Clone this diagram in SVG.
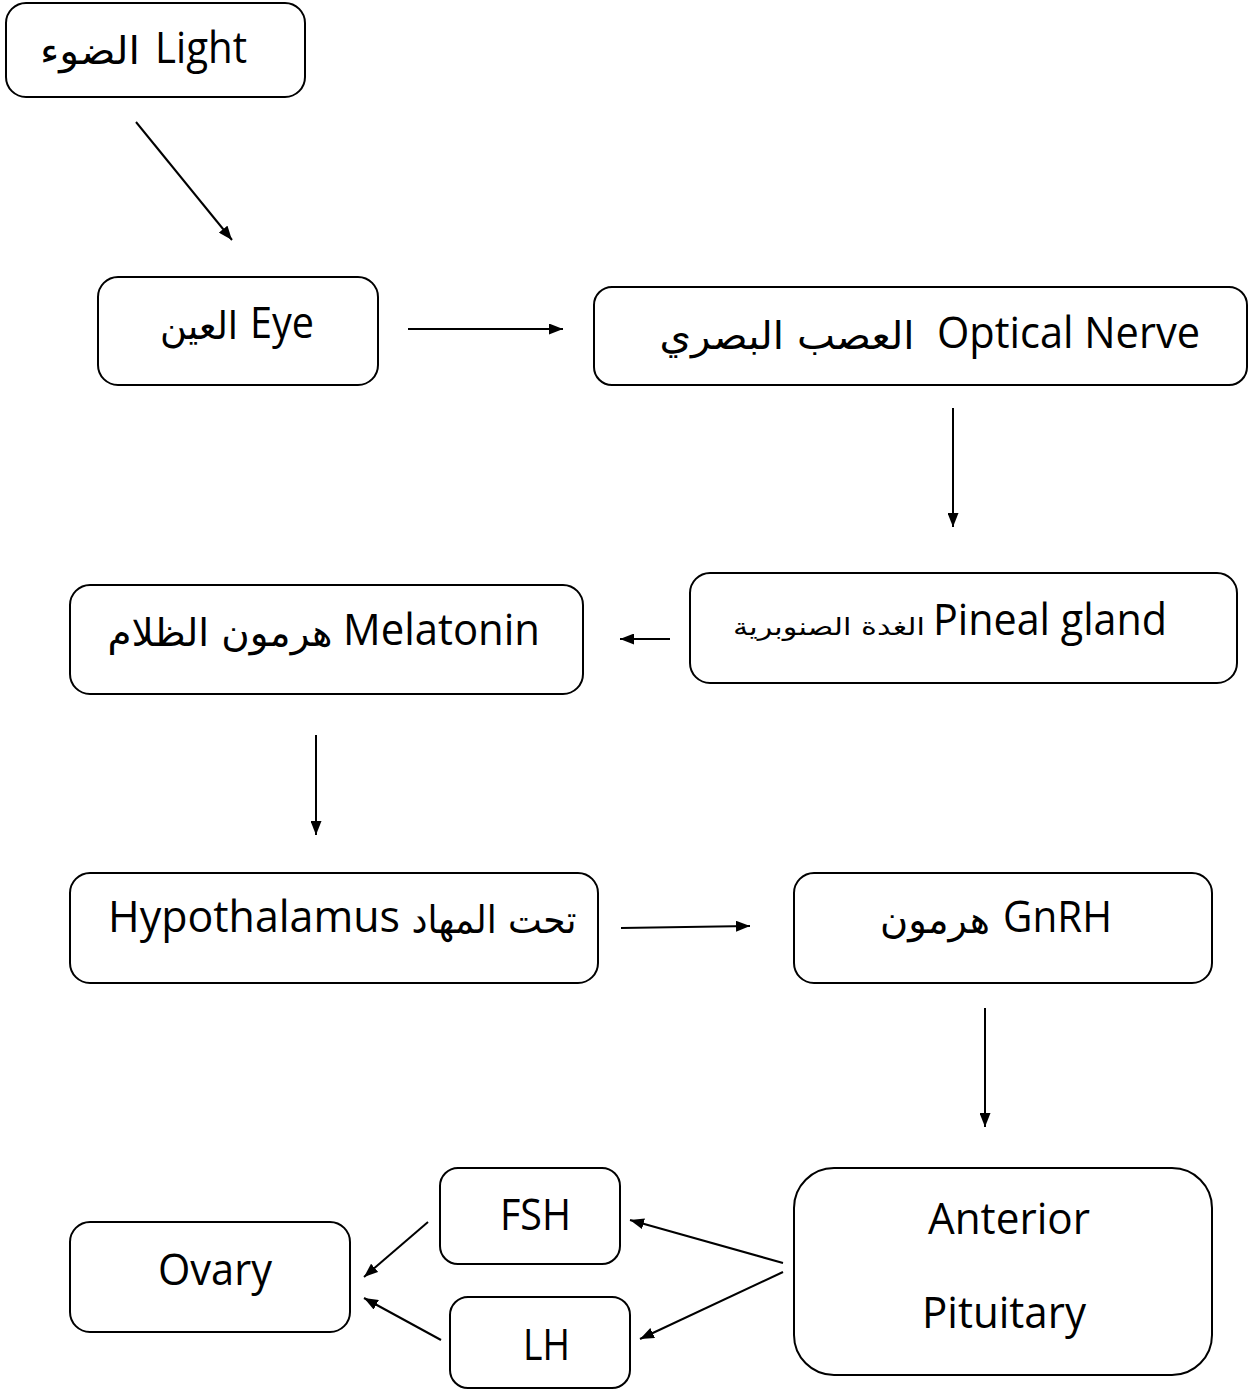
<svg xmlns="http://www.w3.org/2000/svg" width="1248" height="1390" viewBox="0 0 1248 1390">
<style>
.box{fill:#fff;stroke:#000;stroke-width:2}
.en{font-family:"Open Sans","Noto Sans",sans-serif;font-size:44px;fill:#000}
.ar{font-family:"DejaVu Sans",sans-serif;font-size:38px;fill:#000}
.ln{stroke:#000;stroke-width:2;fill:none;marker-end:url(#ah)}
</style>
<defs>
<marker id="ah" viewBox="0 0 14 11" refX="14" refY="5.5" markerWidth="14" markerHeight="11" markerUnits="userSpaceOnUse" orient="auto">
<path d="M0,0 L14,5.5 L0,11 Z" fill="#000"/>
</marker>
</defs>
<rect width="1248" height="1390" fill="#fff"/>
<g id="light">
<rect class="box" x="6" y="3" width="299" height="94" rx="20"/>
<text class="en" x="155" y="63" textLength="92" lengthAdjust="spacingAndGlyphs">Light</text>
<text class="ar" x="90" y="64" text-anchor="middle" textLength="100" lengthAdjust="spacingAndGlyphs">الضوء</text>
</g>
<g id="eye">
<rect class="box" x="98" y="277" width="280" height="108" rx="20"/>
<text class="en" x="250" y="338" textLength="64" lengthAdjust="spacingAndGlyphs">Eye</text>
<text class="ar" x="199" y="339" text-anchor="middle" textLength="78" lengthAdjust="spacingAndGlyphs">العين</text>
</g>
<g id="optical">
<rect class="box" x="594" y="287" width="653" height="98" rx="18"/>
<text class="en" x="937" y="348" textLength="263" lengthAdjust="spacingAndGlyphs">Optical Nerve</text>
<text class="ar" x="787" y="349" text-anchor="middle" textLength="255" lengthAdjust="spacingAndGlyphs">العصب البصري</text>
</g>
<g id="pineal">
<rect class="box" x="690" y="573" width="547" height="110" rx="20"/>
<text class="en" x="933" y="635" textLength="234" lengthAdjust="spacingAndGlyphs">Pineal gland</text>
<text class="ar" x="829" y="635" text-anchor="middle" style="font-size:24px" textLength="192" lengthAdjust="spacingAndGlyphs">الغدة الصنوبرية</text>
</g>
<g id="melatonin">
<rect class="box" x="70" y="585" width="513" height="109" rx="20"/>
<text class="en" x="343" y="645" textLength="197" lengthAdjust="spacingAndGlyphs">Melatonin</text>
<text class="ar" x="220" y="646" text-anchor="middle" textLength="225" lengthAdjust="spacingAndGlyphs">هرمون الظلام</text>
</g>
<g id="hypothalamus">
<rect class="box" x="70" y="873" width="528" height="110" rx="20"/>
<text class="en" x="108" y="932" textLength="292" lengthAdjust="spacingAndGlyphs">Hypothalamus</text>
<text class="ar" x="494" y="933" text-anchor="middle" textLength="165" lengthAdjust="spacingAndGlyphs">تحت المهاد</text>
</g>
<g id="gnrh">
<rect class="box" x="794" y="873" width="418" height="110" rx="20"/>
<text class="en" x="1003" y="932" textLength="109" lengthAdjust="spacingAndGlyphs">GnRH</text>
<text class="ar" x="935" y="933" text-anchor="middle" textLength="110" lengthAdjust="spacingAndGlyphs">هرمون</text>
</g>
<g id="anterior-pituitary">
<rect class="box" x="794" y="1168" width="418" height="207" rx="40"/>
<text class="en" x="928" y="1234" textLength="162" lengthAdjust="spacingAndGlyphs">Anterior</text>
<text class="en" x="922" y="1328" textLength="164" lengthAdjust="spacingAndGlyphs">Pituitary</text>
</g>
<g id="fsh">
<rect class="box" x="440" y="1168" width="180" height="96" rx="18"/>
<text class="en" x="500" y="1230" textLength="71" lengthAdjust="spacingAndGlyphs">FSH</text>
</g>
<g id="lh">
<rect class="box" x="450" y="1297" width="180" height="91" rx="18"/>
<text class="en" x="523" y="1360" textLength="47" lengthAdjust="spacingAndGlyphs">LH</text>
</g>
<g id="ovary">
<rect class="box" x="70" y="1222" width="280" height="110" rx="20"/>
<text class="en" x="158" y="1285" textLength="114" lengthAdjust="spacingAndGlyphs">Ovary</text>
</g>
<g id="connectors">
<line class="ln" x1="136" y1="122" x2="232" y2="240"/>
<line class="ln" x1="408" y1="329" x2="563" y2="329"/>
<line class="ln" x1="953" y1="408" x2="953" y2="527"/>
<line class="ln" x1="670" y1="639" x2="620" y2="639"/>
<line class="ln" x1="316" y1="735" x2="316" y2="835"/>
<line class="ln" x1="621" y1="928" x2="750" y2="926"/>
<line class="ln" x1="985" y1="1008" x2="985" y2="1127"/>
<line class="ln" x1="783" y1="1263" x2="630" y2="1220"/>
<line class="ln" x1="783" y1="1272" x2="640" y2="1339"/>
<line class="ln" x1="428" y1="1222" x2="364" y2="1277"/>
<line class="ln" x1="441" y1="1340" x2="364" y2="1298"/>
</g>
</svg>
